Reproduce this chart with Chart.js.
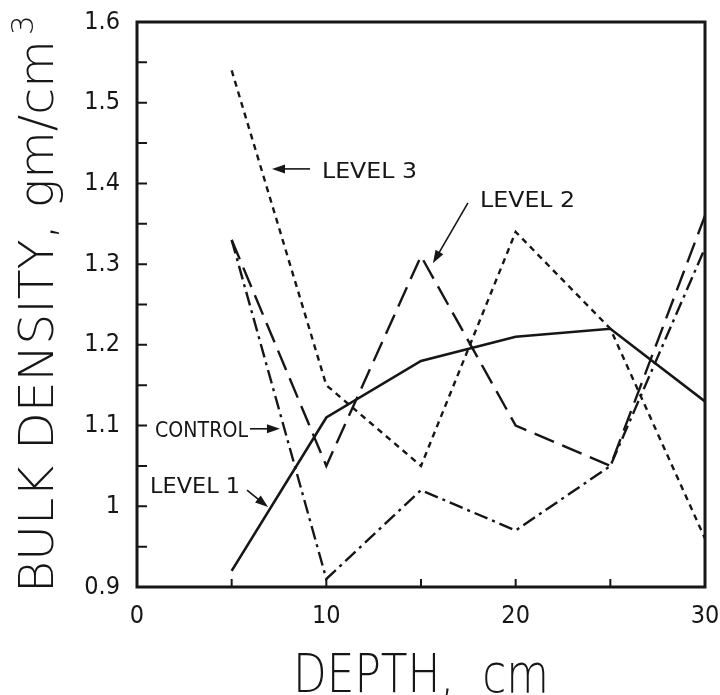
<!DOCTYPE html>
<html>
<head>
<meta charset="utf-8">
<script src="https://cdn.jsdelivr.net/npm/chart.js@4.4.1/dist/chart.umd.min.js"></script>
<style>
  html, body { margin: 0; padding: 0; background: #fff; }
</style>
</head>
<body>
<canvas id="density" width="720" height="695"></canvas>
<script>
// bulk density profiles, sampled every 5 cm
const depths = [5, 10, 15, 20, 25, 30]
const level1 = [0.92, 1.11, 1.18, 1.21, 1.22, 1.13]
const control = [1.33, 0.91, 1.02, 0.97, 1.05, 1.32]
const level2 = [1.33, 1.05, 1.31, 1.10, 1.05, 1.36]
const level3 = [1.54, 1.15, 1.05, 1.34, 1.22, 0.96]

const xTicks = [0, 10, 20, 30]
const yTicks = [0.9, 1, 1.1, 1.2, 1.3, 1.4, 1.5, 1.6]

const ink = '#161616'
const tickFont = { family: '"DejaVu Sans Condensed", "Liberation Sans", sans-serif', size: 25 }
const plotterFont = '"DejaVu Sans", sans-serif'

// labels with arrows, in data units
const callouts = [
  { text: 'LEVEL 3', at: [9.77, 1.407], width: 95, from: [9.14, 1.418], to: [7.13, 1.418] },
  { text: 'LEVEL 2', at: [18.12, 1.371], width: 95, from: [17.48, 1.376], to: [15.63, 1.301] },
  { text: 'CONTROL', at: [0.95, 1.086], width: 93, from: [5.97, 1.096], to: [7.55, 1.096] },
  { text: 'LEVEL 1', at: [0.69, 1.016], width: 90, from: [5.81, 1.020], to: [6.92, 0.999] }
]

const series = (values) => depths.map((d, i) => ({ x: d, y: values[i] }))

function fitText(ctx, text, x, y, width) {
  const w = ctx.measureText(text).width
  ctx.save()
  ctx.translate(x, y)
  ctx.scale(width / w, 1)
  ctx.fillText(text, 0, 0)
  ctx.restore()
}

// box around the plot and inward tick marks
const frame = {
  id: 'frame',
  afterDatasetsDraw(chart) {
    const { ctx, chartArea: a, scales: { x, y } } = chart
    ctx.save()
    ctx.strokeStyle = ink
    ctx.lineWidth = 2
    ctx.beginPath()
    for (let v = 5; v < 30; v += 5) {
      const px = x.getPixelForValue(v)
      ctx.moveTo(px, a.bottom)
      ctx.lineTo(px, a.bottom - 8)
    }
    for (let i = 1; i < 14; i++) {
      const py = y.getPixelForValue(0.9 + i * 0.05)
      ctx.moveTo(a.left, py)
      ctx.lineTo(a.left + 10, py)
    }
    ctx.stroke()
    ctx.lineWidth = 3
    ctx.strokeRect(a.left, a.top, a.width, a.height)
    ctx.restore()
  }
}

const labels = {
  id: 'labels',
  afterDraw(chart) {
    const { ctx, chartArea: a, scales: { x, y } } = chart
    ctx.save()
    ctx.fillStyle = ink
    ctx.strokeStyle = ink
    ctx.textBaseline = 'alphabetic'
    ctx.textAlign = 'left'

    // callouts
    ctx.font = `22px ${plotterFont}`
    ctx.lineWidth = 1.6
    callouts.forEach(c => {
      fitText(ctx, c.text, x.getPixelForValue(c.at[0]), y.getPixelForValue(c.at[1]), c.width)
      const x0 = x.getPixelForValue(c.from[0]), y0 = y.getPixelForValue(c.from[1])
      const x1 = x.getPixelForValue(c.to[0]), y1 = y.getPixelForValue(c.to[1])
      const ang = Math.atan2(y1 - y0, x1 - x0)
      ctx.beginPath()
      ctx.moveTo(x0, y0)
      ctx.lineTo(x1 - 8 * Math.cos(ang), y1 - 8 * Math.sin(ang))
      ctx.stroke()
      ctx.beginPath()
      ctx.moveTo(x1, y1)
      ctx.lineTo(x1 - 13 * Math.cos(ang) + 4.5 * Math.sin(ang), y1 - 13 * Math.sin(ang) - 4.5 * Math.cos(ang))
      ctx.lineTo(x1 - 13 * Math.cos(ang) - 4.5 * Math.sin(ang), y1 - 13 * Math.sin(ang) + 4.5 * Math.cos(ang))
      ctx.closePath()
      ctx.fill()
    })

    // x axis title
    ctx.font = `200 54px ${plotterFont}`
    const cx = (a.left + a.right) / 2
    fitText(ctx, 'DEPTH,  cm', cx - 128, chart.height - 3, 256)

    // y axis title, reading upward, with superscript
    ctx.translate(53, 593)
    ctx.rotate(-Math.PI / 2)
    ctx.font = `200 48px ${plotterFont}`
    fitText(ctx, 'BULK DENSITY, gm/cm', 0, 0, 553)
    ctx.font = `200 31px ${plotterFont}`
    ctx.fillText('3', 558, -20)
    ctx.restore()
  }
}

const lineSet = (label, values, dash, width) => ({
  label,
  data: series(values),
  borderColor: ink,
  borderWidth: width,
  borderDash: dash,
  pointRadius: 0,
  tension: 0,
  fill: false
})

new Chart(document.getElementById('density'), {
  type: 'line',
  data: {
    datasets: [
      lineSet('LEVEL 1', level1, [], 2.6),
      lineSet('CONTROL', control, [14, 5, 3, 5], 2.4),
      lineSet('LEVEL 2', level2, [21, 9], 2.4),
      lineSet('LEVEL 3', level3, [6, 5], 2.4)
    ]
  },
  options: {
    responsive: false,
    animation: false,
    layout: { padding: { top: 22, right: 15, left: 0, bottom: 0 } },
    plugins: {
      legend: { display: false },
      tooltip: { enabled: false }
    },
    scales: {
      x: {
        type: 'linear',
        min: 0,
        max: 30,
        afterBuildTicks: s => { s.ticks = xTicks.map(v => ({ value: v })) },
        // fixed band under the plot; end labels may hang past the frame
        afterFit: s => { s.height = 108; s.paddingLeft = 0; s.paddingRight = 0 },
        grid: { display: false, drawTicks: false },
        border: { display: false },
        ticks: { color: ink, font: tickFont, padding: 14, maxRotation: 0 }
      },
      y: {
        type: 'linear',
        min: 0.9,
        max: 1.6,
        afterBuildTicks: s => { s.ticks = yTicks.map(v => ({ value: v })) },
        afterFit: s => { s.width = 137; s.paddingTop = 0; s.paddingBottom = 0 },
        grid: { display: false, drawTicks: false },
        border: { display: false },
        ticks: {
          color: ink,
          font: tickFont,
          padding: 17,
          callback: v => String(Math.round(v * 10) / 10)
        }
      }
    }
  },
  plugins: [frame, labels]
})
</script>
</body>
</html>
